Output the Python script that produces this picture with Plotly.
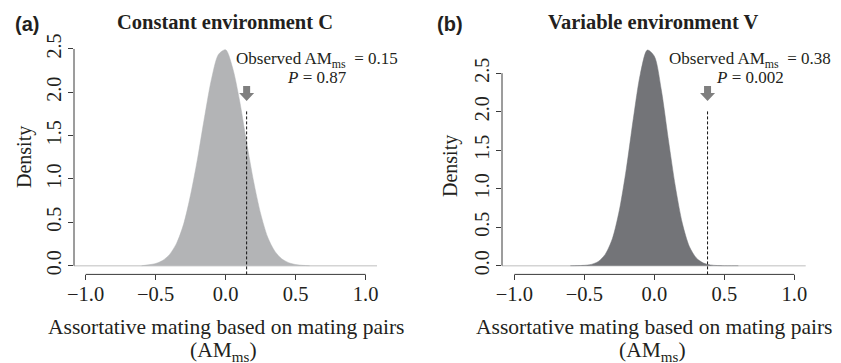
import plotly.graph_objects as go

# ---------------- data ----------------
x_grid = [-0.60, -0.55, -0.50, -0.45, -0.40, -0.35, -0.30, -0.25, -0.20, -0.15, -0.10, -0.05,
          0.00, 0.05, 0.10, 0.15, 0.20, 0.25, 0.30, 0.35, 0.40, 0.45, 0.50, 0.55, 0.60]
density_C = [0.0, 0.01, 0.025, 0.06, 0.13, 0.26, 0.48, 0.82, 1.24, 1.72, 2.16, 2.44,
             2.49, 2.28, 1.90, 1.42, 0.97, 0.60, 0.33, 0.17, 0.08, 0.035, 0.013, 0.004, 0.0]
density_V = [0.0, 0.001, 0.005, 0.017, 0.055, 0.15, 0.35, 0.72, 1.26, 1.91, 2.49, 2.80,
             2.72, 2.28, 1.64, 1.03, 0.55, 0.25, 0.10, 0.035, 0.01, 0.002, 0.0, 0.0, 0.0]
observed = [0.15, 0.38]
p_values = ["0.87", "0.002"]
titles = ["Constant environment C", "Variable environment V"]
panel_labels = ["(a)", "(b)"]
x_ticks = [-1.0, -0.5, 0.0, 0.5, 1.0]
y_ticks = [0.0, 0.5, 1.0, 1.5, 2.0, 2.5]

# ---------------- style ----------------
W, H = 841, 363
SERIF = "Liberation Serif"
SANS = "Liberation Sans"
TXT = "#231f20"
AX = "#3a3a3a"
fills = ["#b3b4b6", "#737478"]
arrow_col = "#7f7f7f"

def px(xp):
    return xp / W

def py(yp):
    return 1 - yp / H

# panel geometry (pixels)
panels = [
    dict(xl=74, xr=377, yt=39.4, yb=274.4, xr_range=[-1.083, 1.081], yr_range=[-0.1004, 2.61],
         xc=225.7, ylab_x=24.5, ylab_y=157.5, lab_x=13, ann_x=317),
    dict(xl=502, xr=805.7, yt=39.3, yb=274.4, xr_range=[-1.088, 1.081], yr_range=[-0.113, 2.94],
         xc=654.3, ylab_x=451, ylab_y=166, lab_x=435, ann_x=750),
]
densities = [density_C, density_V]

fig = go.Figure()
shapes = []
annotations = []

for i, p in enumerate(panels):
    xa = "x" if i == 0 else "x2"
    ya = "y" if i == 0 else "y2"
    xkey = "xaxis" if i == 0 else "xaxis2"
    ykey = "yaxis" if i == 0 else "yaxis2"

    fig.add_trace(go.Scatter(
        x=x_grid, y=densities[i], mode="lines", fill="tozeroy",
        fillcolor=fills[i], line=dict(color=fills[i], width=0.5, shape="spline", smoothing=0.8),
        xaxis=xa, yaxis=ya, showlegend=False, hoverinfo="skip"))

    fig.update_layout(**{
        xkey: dict(domain=[px(p["xl"]), px(p["xr"])], range=p["xr_range"], anchor=ya,
                   automargin=False,
                   showgrid=False, zeroline=False, showline=False,
                   tickvals=x_ticks, tickformat=".1f", ticks="outside", ticklen=5,
                   tickcolor=AX, tickwidth=1, ticklabelstandoff=-4,
                   tickfont=dict(family=SERIF, size=20.5, color=TXT)),
        ykey: dict(domain=[py(p["yb"]), py(p["yt"])], range=p["yr_range"], anchor=xa,
                   automargin=False,
                   showgrid=False, zeroline=False, showline=False,
                   tickvals=y_ticks, tickformat=".1f", ticks="outside", ticklen=5,
                   tickcolor=AX, tickwidth=1, tickangle=-90, ticklabelstandoff=-1,
                   tickfont=dict(family=SERIF, size=20, color=TXT)),
    })

    # light baseline at density 0
    shapes.append(dict(type="line", xref=f"{xa} domain", x0=0, x1=1, yref=ya, y0=0, y1=0,
                       line=dict(color="#d4d4d4", width=1.5), layer="below"))
    # R-style axis lines (first to last tick)
    shapes.append(dict(type="line", xref=xa, x0=x_ticks[0], x1=x_ticks[-1],
                       yref=f"{ya} domain", y0=0, y1=0, line=dict(color=AX, width=1)))
    shapes.append(dict(type="line", xref=f"{xa} domain", x0=0, x1=0,
                       yref=ya, y0=y_ticks[0], y1=y_ticks[-1], line=dict(color=AX, width=1)))
    # observed value: dashed line + block arrow
    shapes.append(dict(type="line", xref=xa, x0=observed[i], x1=observed[i],
                       yref="paper", y0=py(p["yb"]), y1=py(110),
                       line=dict(color="#111111", width=1, dash="3px,2px")))
    shapes.append(dict(type="path", xref=xa, yref="paper", xsizemode="pixel", ysizemode="pixel",
                       xanchor=observed[i], yanchor=py(86),
                       path="M -3.5,0 L 3.5,0 L 3.5,-7 L 7.5,-7 L 0,-15 L -7.5,-7 L -3.5,-7 Z",
                       fillcolor=arrow_col, line=dict(width=0)))

    # texts
    annotations += [
        dict(text=f"<b>{panel_labels[i]}</b>", x=px(p["lab_x"]), y=py(24.5), xref="paper", yref="paper",
             xanchor="left", yanchor="middle", showarrow=False,
             font=dict(family=SANS, size=20, color=TXT)),
        dict(text=f"<b>{titles[i]}</b>", x=px(p["xc"] - 1), y=py(22), xref="paper", yref="paper",
             xanchor="center", yanchor="middle", showarrow=False,
             font=dict(family=SERIF, size=20.5, color=TXT)),
        dict(text="Density", x=px(p["ylab_x"]), y=py(p["ylab_y"]), xref="paper", yref="paper",
             xanchor="center", yanchor="middle", textangle=-90, showarrow=False,
             font=dict(family=SERIF, size=20, color=TXT)),
        dict(text="Assortative mating based on mating pairs", x=px(p["xc"]), y=py(327),
             xref="paper", yref="paper", xanchor="center", yanchor="middle", showarrow=False,
             font=dict(family=SERIF, size=21.5, color=TXT)),
        dict(text="(AM<sub>ms</sub>)", x=px(p["xc"] - 2), y=py(351),
             xref="paper", yref="paper", xanchor="center", yanchor="middle", showarrow=False,
             font=dict(family=SERIF, size=21.5, color=TXT)),
        dict(text=f"Observed AM<sub>ms</sub>  = {observed[i]:.2f}", x=px(p["ann_x"]), y=py(60),
             xref="paper", yref="paper", xanchor="center", yanchor="middle", showarrow=False,
             font=dict(family=SERIF, size=17, color=TXT)),
        dict(text=f"<i>P</i> = {p_values[i]}", x=px(p["ann_x"]), y=py(78),
             xref="paper", yref="paper", xanchor="center", yanchor="middle", showarrow=False,
             font=dict(family=SERIF, size=17, color=TXT)),
    ]

fig.update_layout(width=W, height=H, margin=dict(l=0, r=0, t=0, b=0),
                  paper_bgcolor="white", plot_bgcolor="white",
                  shapes=shapes, annotations=annotations, showlegend=False)

fig.write_html("out.html", config={"displayModeBar": False},
               post_script="document.body.style.margin='0';document.body.style.padding='0';")
